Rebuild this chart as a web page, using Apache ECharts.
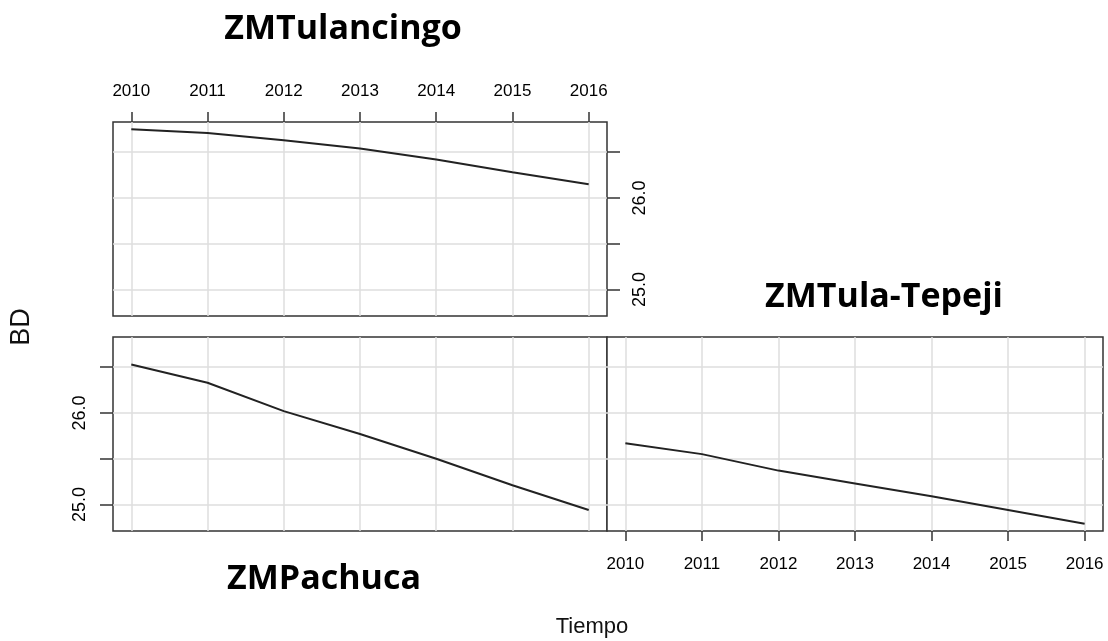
<!DOCTYPE html>
<html>
<head>
<meta charset="utf-8">
<script src="https://cdn.jsdelivr.net/npm/echarts@6/dist/echarts.min.js"></script>
<style>
  html, body { margin: 0; padding: 0; background: #fff; }
  #chart { width: 1108px; height: 641px; }
</style>
</head>
<body>
<div id="chart"></div>
<script>
// data
const years = [2010, 2011, 2012, 2013, 2014, 2015, 2016];
const tulancingo = [26.75, 26.71, 26.63, 26.54, 26.42, 26.28, 26.15];
const pachuca = [26.53, 26.33, 26.02, 25.77, 25.50, 25.21, 24.94];
const tulaTepeji = [25.67, 25.55, 25.37, 25.23, 25.09, 24.94, 24.79];
const yTicks = [25.0, 25.5, 26.0, 26.5];
const yLabels = [25.0, 26.0];

const chart = echarts.init(document.getElementById('chart'));

const tickFont = { fontFamily: 'Liberation Sans', fontSize: 17, color: '#000' };
const gridLine = { show: true, lineStyle: { color: '#dedede', width: 1.5 } };
const tickLine = { color: '#333', width: 1.5 };

const xMin = 2009.76, xMax = 2016.24;
const yMin = 24.71, yMax = 26.83;

const makeX = (gridIndex, position, withTicks, margin) => ({
  type: 'value',
  gridIndex,
  position,
  min: xMin,
  max: xMax,
  axisLine: { show: false },
  axisTick: { show: withTicks, length: 10, customValues: years, lineStyle: tickLine },
  axisLabel: { show: withTicks, customValues: years, margin, formatter: v => String(v), ...tickFont },
  splitLine: gridLine
});

const makeY = (gridIndex, position, withTicks) => ({
  type: 'value',
  gridIndex,
  position,
  min: yMin,
  max: yMax,
  axisLine: { show: false },
  axisTick: { show: withTicks, length: 13, customValues: yTicks, lineStyle: tickLine },
  axisLabel: {
    show: withTicks,
    customValues: yLabels,
    rotate: 90,
    margin: 24,
    formatter: v => v.toFixed(1),
    ...tickFont,
    fontSize: 18
  },
  splitLine: gridLine
});

const toPairs = vals => years.map((y, i) => [y, vals[i]]);

const lineSeries = (idx, vals) => ({
  type: 'line',
  xAxisIndex: idx,
  yAxisIndex: idx,
  data: toPairs(vals),
  showSymbol: false,
  lineStyle: { color: '#222', width: 2 },
  silent: true
});

const gridBox = { show: true, borderColor: '#333', borderWidth: 1.5, backgroundColor: '#fff' };

const titleFont = { fontFamily: 'Open Sans', fontWeight: 'bold', fontSize: 34, fill: '#000', align: 'center', verticalAlign: 'middle' };

const option = {
  animation: false,
  backgroundColor: '#fff',
  grid: [
    { left: 113, top: 122, width: 494, height: 194, ...gridBox },
    { left: 113, top: 337, width: 494, height: 194, ...gridBox },
    { left: 607, top: 337, width: 496, height: 194, ...gridBox }
  ],
  xAxis: [
    makeX(0, 'top', true, 22),
    makeX(1, 'bottom', false, 25),
    makeX(2, 'bottom', true, 25)
  ],
  yAxis: [
    makeY(0, 'right', true),
    makeY(1, 'left', true),
    makeY(2, 'left', false)
  ],
  series: [
    lineSeries(0, tulancingo),
    lineSeries(1, pachuca),
    lineSeries(2, tulaTepeji)
  ],
  graphic: [
    { type: 'text', x: 343, y: 29, style: { text: 'ZMTulancingo', ...titleFont } },
    { type: 'text', x: 884, y: 297, style: { text: 'ZMTula-Tepeji', ...titleFont } },
    { type: 'text', x: 324, y: 579, style: { text: 'ZMPachuca', ...titleFont } },
    { type: 'text', x: 592, y: 627, style: { text: 'Tiempo', fontFamily: 'Liberation Sans', fontSize: 22, fill: '#111', align: 'center', verticalAlign: 'middle' } },
    { type: 'text', x: 22, y: 327, rotation: Math.PI / 2, style: { text: 'BD', fontFamily: 'Liberation Sans', fontSize: 27, fill: '#111', align: 'center', verticalAlign: 'middle' } }
  ]
};

chart.setOption(option);
</script>
</body>
</html>
